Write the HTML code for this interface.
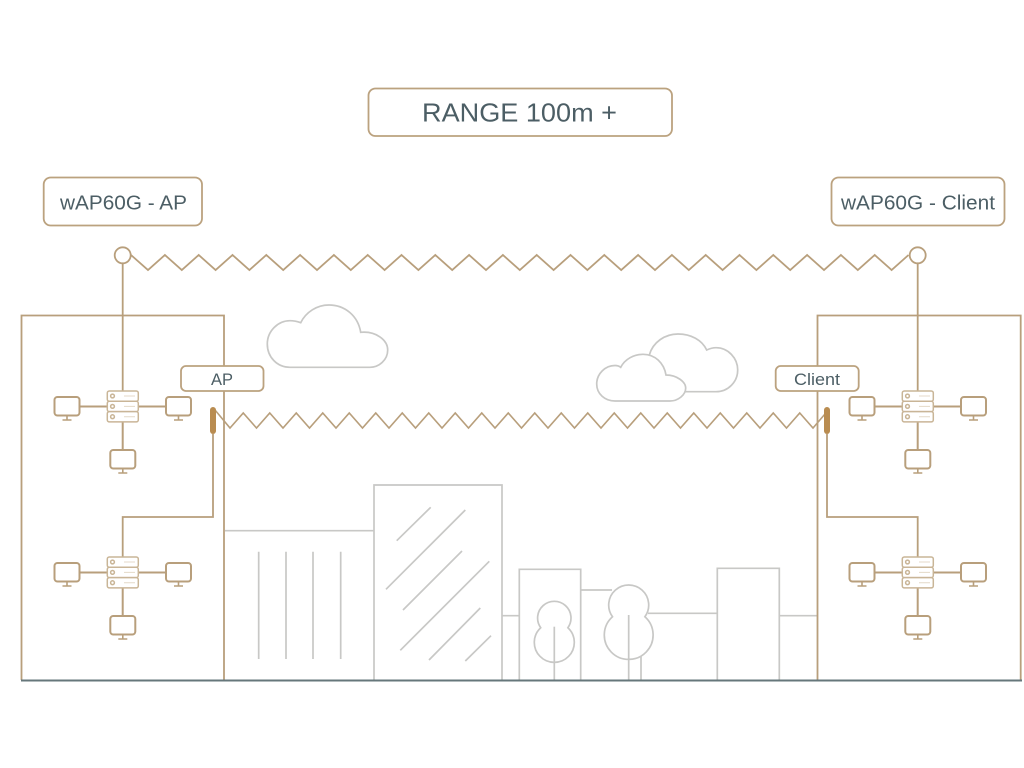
<!DOCTYPE html>
<html>
<head>
<meta charset="utf-8">
<style>
html,body{margin:0;padding:0;background:#fff;width:1024px;height:768px;overflow:hidden}
svg{display:block}
text{font-family:"Liberation Sans",sans-serif;fill:#4c5e65}
</style>
</head>
<body>
<svg width="1024" height="768" viewBox="0 0 1024 768" xmlns="http://www.w3.org/2000/svg">
<defs>
<g id="monitor">
<rect x="0" y="0" width="25" height="18.5" rx="3" fill="#fff" stroke="#b89f7c" stroke-width="2"/>
<path d="M12.5 18.5V23M8 23H17" fill="none" stroke="#b89f7c" stroke-width="1.600"/>
</g>
<g id="cluster">
<path d="M79.700 406.500H165.700M122.700 422V450" fill="none" stroke="#b89f7c" stroke-width="2"/>
<use href="#monitor" x="54.500" y="397"/>
<use href="#monitor" x="166" y="397"/>
<use href="#monitor" x="110.300" y="450"/>
<g fill="#fff" stroke="#c9b597" stroke-width="1.500">
<rect x="107.300" y="391" width="31" height="10.300" rx="2"/>
<rect x="107.300" y="401.300" width="31" height="10.300" rx="2"/>
<rect x="107.300" y="411.600" width="31" height="10.300" rx="2"/>
<circle cx="112.500" cy="396" r="1.900"/>
<circle cx="112.500" cy="406.400" r="1.900"/>
<circle cx="112.500" cy="416.700" r="1.900"/>
</g>
<path d="M124 396H135M124 406.400H135M124 416.700H135" stroke="#e4d9c8" stroke-width="1" fill="none"/>
</g>
</defs>

<!-- city -->
<g fill="none" stroke="#c8c8c6" stroke-width="1.700">
<path d="M225 530.700H374"/>
<path d="M374 680V485H502V680"/>
<path d="M258.700 551.700V659M286 551.700V659M313 551.700V659M340.700 551.700V659"/>
<path d="M396.700 540.700L430.700 507.300M386 589.300L465.300 510M403 610L462 551M400.300 650.300L489.300 561.300M429 660L480.300 608M465.300 661L491 635.700"/>
<path d="M502 615.700H519.300"/>
<path d="M519.300 680V569.300H580.700V680"/>
<path d="M580.700 590H612"/>
<path d="M540.700 627.700A16.700 16.700 0 1 1 567.900 627.700A20 20 0 1 1 540.700 627.700Z"/>
<path d="M554.300 626.700V680"/>
<path d="M612.500 616.750A20 20 0 1 1 644.900 616.750A24.400 24.400 0 1 1 612.500 616.750Z"/>
<path d="M628.700 615V680M641 656V680"/>
<path d="M648 613.300H717.300"/>
<path d="M717.300 680V568.300H779.300V680"/>
<path d="M779.300 615.700H817"/>
<!-- clouds -->
<path d="M290 367.300C277 367.300 267.300 357 267.300 344C267.300 331 278 320.700 290 320.700C294 320.700 297.500 321.500 300.700 322.700C306 312 317 305 329 305C345 305 358 316 360.700 332.300C376 331 387.700 340 387.700 350C387.700 360 379 367.300 370 367.300Z"/>
<path d="M649.300 355C653 342 665 334 678 334C691 334 702 340 706.700 350C710 348.500 713 347.700 716 347.700C728 347.700 737.700 358 737.700 370C737.700 382 728 391.700 716 391.700H685"/>
<path d="M615 401C605 401 596.700 394 596.700 384C596.700 374 605 365.500 615 365.500C617 365.500 619 366 620.700 367.300C625 359 634 354.300 643 354.300C655 354.300 664 363 666 375C677 375 685.700 382 685.700 388C685.700 395 678 401 670 401Z" fill="#fff"/>
</g>

<!-- buildings -->
<g fill="none" stroke="#b89f7c" stroke-width="1.800">
<path d="M21.500 680V315.500H224V680"/>
<path d="M817.500 680V315.500H1020.700V680"/>
<path d="M122.700 263V391"/>
<path d="M917.700 263V391"/>
<path d="M213 434V517H122.700V557"/>
<path d="M827 434V517H917.700V557"/>
</g>

<!-- ground -->
<path d="M21 680.500H1022" stroke="#66777b" stroke-width="2" fill="none"/>

<!-- upper zigzag -->
<polyline points="131,255 148,270 164.9,255 181.8,270 198.7,255 215.6,270 232.5,255 249.4,270 266.3,255 283.2,270 300.1,255 317,270 333.9,255 350.8,270 367.7,255 384.6,270 401.5,255 418.4,270 435.3,255 452.2,270 469.1,255 486,270 502.9,255 519.8,270 536.7,255 553.6,270 570.5,255 587.4,270 604.3,255 621.2,270 638.1,255 655,270 671.9,255 688.8,270 705.7,255 722.6,270 739.5,255 756.4,270 773.3,255 790.2,270 807.1,255 824,270 840.9,255 857.8,270 874.7,255 891.6,270 908.5,255" fill="none" stroke="#b89f7c" stroke-width="1.800"/>
<circle cx="122.700" cy="255.300" r="8" fill="#fff" stroke="#b89f7c" stroke-width="1.800"/>
<circle cx="917.700" cy="255.300" r="8" fill="#fff" stroke="#b89f7c" stroke-width="1.800"/>

<!-- lower zigzag -->
<polyline points="215,410 230,428 243.25,413 256.5,428 269.75,413 283,428 296.25,413 309.5,428 322.75,413 336,428 349.25,413 362.5,428 375.75,413 389,428 402.25,413 415.5,428 428.75,413 442,428 455.25,413 468.5,428 481.75,413 495,428 508.25,413 521.5,428 534.75,413 548,428 561.25,413 574.5,428 587.75,413 601,428 614.25,413 627.5,428 640.75,413 654,428 667.25,413 680.5,428 693.75,413 707,428 720.25,413 733.5,428 746.75,413 760,428 773.25,413 786.5,428 799.75,413 813,428 825,414" fill="none" stroke="#b89f7c" stroke-width="1.600"/>

<!-- antennas -->
<rect x="210" y="407" width="6" height="27" rx="3" fill="#b98c50"/>
<rect x="824" y="407" width="6" height="27" rx="3" fill="#b98c50"/>

<!-- clusters -->
<use href="#cluster"/>
<use href="#cluster" y="166"/>
<use href="#cluster" x="795"/>
<use href="#cluster" x="795" y="166"/>

<!-- labels -->
<g fill="#fff" stroke="#bba27f" stroke-width="1.800">
<rect x="368.500" y="88.500" width="303.500" height="47.500" rx="7"/>
<rect x="43.700" y="177.500" width="158.300" height="48" rx="7"/>
<rect x="831.500" y="177.500" width="173" height="48" rx="7"/>
<rect x="181" y="366" width="82.500" height="25" rx="5"/>
<rect x="775.700" y="366" width="83" height="25" rx="5"/>
</g>
<text x="422" y="121.500" font-size="26" textLength="195" lengthAdjust="spacingAndGlyphs">RANGE 100m +</text>
<text x="60" y="209.500" font-size="20" textLength="127" lengthAdjust="spacingAndGlyphs">wAP60G - AP</text>
<text x="841" y="209.500" font-size="20" textLength="154" lengthAdjust="spacingAndGlyphs">wAP60G - Client</text>
<text x="211" y="385" font-size="17" textLength="22" lengthAdjust="spacingAndGlyphs">AP</text>
<text x="794" y="385" font-size="17" textLength="46" lengthAdjust="spacingAndGlyphs">Client</text>
</svg>
</body>
</html>
